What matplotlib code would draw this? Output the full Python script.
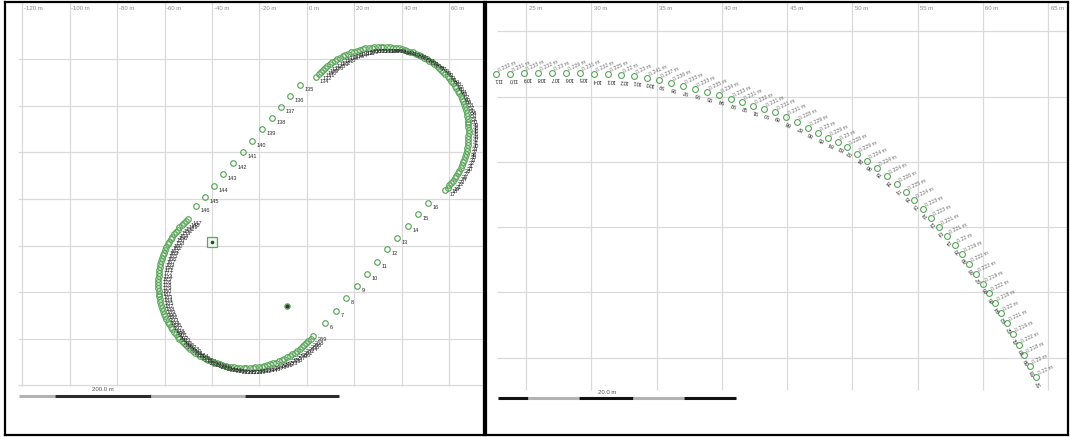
import numpy as np
import matplotlib
matplotlib.use("Agg")
import matplotlib.pyplot as plt

plt.rcParams['font.family'] = ['Liberation Sans', 'DejaVu Sans']

# ---------------- overview track (left panel), metres ----------------
straight_a_id = [6, 7, 8, 9, 10, 11, 12, 13, 14, 15, 16]
straight_a_x = [7.6, 12.2, 16.4, 21.1, 25.3, 29.5, 33.7, 37.9, 42.5, 46.7, 51.0]
straight_a_y = [-53.2, -48.1, -42.5, -37.3, -32.2, -27.0, -21.5, -16.7, -11.6, -6.4, -1.7]

arc_top_id = [17, 18, 19, 21, 22, 23, 24, 26, 27, 28, 30, 31, 32, 33,
              35, 36, 37, 39, 40, 41, 42, 44, 45, 46, 48, 49, 50, 51,
              53, 54, 55, 57, 58, 59, 60, 62, 63, 64, 66, 67, 68, 69,
              71, 72, 73, 75, 76, 77, 78, 80, 81, 82, 84, 85, 86, 87,
              89, 90, 91, 93, 94, 95, 96, 98, 99, 100, 102, 103, 104, 105,
              107, 108, 109, 111, 112, 113, 114, 116, 117, 118, 120, 121, 122, 123,
              125, 126, 127, 129, 130, 131, 132, 134]
arc_top_x = [58.3, 59.2, 60.0, 60.8, 61.5, 62.2, 62.9, 63.5, 64.1, 64.7, 65.2, 65.7, 66.1, 66.5,
             66.9, 67.2, 67.4, 67.7, 67.8, 68.0, 68.0, 68.1, 68.1, 68.0, 68.0, 67.8, 67.7, 67.4,
             67.2, 66.9, 66.5, 66.1, 65.7, 65.2, 64.7, 64.1, 63.5, 62.9, 62.2, 61.5, 60.8, 60.0,
             59.2, 58.3, 57.4, 56.5, 55.6, 54.6, 53.6, 52.5, 51.5, 50.4, 49.3, 48.2, 47.0, 45.9,
             44.7, 43.5, 42.3, 41.1, 39.8, 38.6, 37.3, 36.1, 34.8, 33.5, 32.2, 31.0, 29.7, 28.4,
             27.2, 25.9, 24.6, 23.4, 22.2, 20.9, 19.7, 18.5, 17.3, 16.2, 15.0, 13.9, 12.8, 11.7,
             10.7, 9.6, 8.6, 7.6, 6.7, 5.8, 4.9, 3.6]
arc_top_y = [3.9, 4.9, 5.8, 6.8, 7.9, 8.9, 10.0, 11.1, 12.2, 13.4, 14.5, 15.7, 16.9, 18.1,
             19.4, 20.6, 21.8, 23.1, 24.4, 25.6, 26.9, 28.2, 29.4, 30.7, 32.0, 33.2, 34.5, 35.8,
             37.0, 38.3, 39.5, 40.7, 41.9, 43.1, 44.2, 45.4, 46.5, 47.6, 48.7, 49.7, 50.8, 51.8,
             52.8, 53.7, 54.6, 55.5, 56.4, 57.2, 58.0, 58.7, 59.4, 60.1, 60.7, 61.3, 61.9, 62.4,
             62.9, 63.3, 63.7, 64.1, 64.4, 64.6, 64.9, 65.0, 65.2, 65.2, 65.3, 65.3, 65.2, 65.2,
             65.0, 64.9, 64.6, 64.4, 64.1, 63.7, 63.3, 62.9, 62.4, 61.9, 61.3, 60.7, 60.1, 59.4,
             58.7, 58.0, 57.2, 56.4, 55.5, 54.6, 53.7, 52.3]

straight_b_id = [135, 136, 137, 138, 139, 140, 141, 142, 143, 144, 145, 146]
straight_b_x = [-3.0, -7.2, -10.9, -14.7, -18.9, -23.2, -26.9, -31.2, -35.4, -39.2, -43.0, -46.7]
straight_b_y = [48.9, 44.2, 39.5, 34.8, 30.0, 24.9, 20.2, 15.5, 10.7, 5.6, 0.9, -3.0]

arc_bottom_id = [147, 148, 149, 151, 152, 153, 154, 156, 157, 158, 160, 161, 162, 163,
                 165, 166, 167, 169, 170, 171, 172, 174, 175, 176, 178, 179, 180, 181,
                 183, 184, 185, 187, 188, 189, 190, 192, 193, 194, 196, 197, 198, 199,
                 201, 202, 203, 205, 206, 207, 208, 210, 211, 212, 214, 215, 216, 217,
                 219, 220, 221, 223, 224, 225, 226, 228, 229, 230, 232, 233, 234, 235,
                 237, 238, 239, 241, 242, 243, 244, 246, 247, 248, 250, 251, 252, 253,
                 255, 256, 257, 259, 260, 261, 262, 264, 265, 266, 268, 269]
arc_bottom_x = [-50.1, -51.0, -51.9, -52.8, -53.7, -54.5, -55.3, -56.0, -56.7, -57.4, -58.0, -58.6,
                -59.2, -59.7, -60.2, -60.6, -61.0, -61.4, -61.7, -61.9, -62.2, -62.3, -62.5, -62.6,
                -62.6, -62.6, -62.6, -62.5, -62.3, -62.2, -61.9, -61.7, -61.4, -61.0, -60.6, -60.2,
                -59.7, -59.2, -58.6, -58.0, -57.4, -56.7, -56.0, -55.3, -54.5, -53.7, -52.8, -51.9,
                -51.0, -50.1, -49.1, -48.1, -47.0, -46.0, -44.9, -43.8, -42.7, -41.5, -40.4, -39.2,
                -38.0, -36.8, -35.6, -34.3, -33.1, -31.8, -30.6, -29.3, -28.0, -26.7, -25.5, -24.2,
                -22.9, -21.7, -20.4, -19.1, -17.9, -16.7, -15.4, -14.2, -13.0, -11.8, -10.7, -9.5,
                -8.4, -7.3, -6.2, -5.2, -4.1, -3.1, -2.2, -1.2, -0.3, 0.6, 1.5, 2.7]
arc_bottom_y = [-8.6, -9.4, -10.3, -11.2, -12.2, -13.1, -14.1, -15.2, -16.2, -17.3, -18.4, -19.5,
                -20.7, -21.8, -23.0, -24.2, -25.4, -26.7, -27.9, -29.1, -30.4, -31.7, -32.9, -34.2,
                -35.5, -36.7, -38.0, -39.3, -40.6, -41.8, -43.1, -44.3, -45.6, -46.8, -48.0, -49.2,
                -50.4, -51.5, -52.7, -53.8, -54.9, -56.0, -57.0, -58.1, -59.1, -60.1, -61.0, -61.9,
                -62.8, -63.7, -64.5, -65.3, -66.0, -66.7, -67.4, -68.0, -68.6, -69.2, -69.7, -70.2,
                -70.6, -71.0, -71.4, -71.7, -71.9, -72.2, -72.3, -72.5, -72.6, -72.6, -72.6, -72.6,
                -72.5, -72.3, -72.2, -71.9, -71.7, -71.4, -71.0, -70.6, -70.2, -69.7, -69.2, -68.6,
                -68.0, -67.4, -66.7, -66.0, -65.3, -64.5, -63.7, -62.8, -61.9, -61.0, -60.1, -58.6]

square_marker_x = [-40.0]
square_marker_y = [-18.5]
pin_marker_x = [-8.4]
pin_marker_y = [-45.9]

overview_xticks = [-120, -100, -80, -60, -40, -20, 0, 20, 40, 60]
overview_yticks = [60, 40, 20, 0, -20, -40, -60, -80]
overview_xlabels = ["-120 m", "-100 m", "-80 m", "-60 m", "-40 m", "-20 m", "0 m", "20 m", "40 m", "60 m"]
overview_scale_label = "200.0 m"

# ---------------- detail of the top curve (right panel), metres ----------------
detail_id = [111, 110, 109, 108, 107, 106, 105, 104, 103, 102, 101, 100, 99, 98, 97, 96, 95, 94,
             93, 92, 91, 90, 89, 88, 87, 86, 85, 84, 83, 82, 81, 80, 79, 78, 77, 76, 75, 74, 73,
             72, 71, 70, 69, 68, 67, 66, 65, 64, 63, 62, 61, 60, 59, 58, 57]
detail_x = [22.70, 23.77, 24.85, 25.92, 26.99, 28.07, 29.14, 30.21, 31.28, 32.28, 33.28, 34.27,
            35.19, 36.11, 37.03, 37.95, 38.87, 39.79, 40.71, 41.55, 42.39, 43.24, 44.08, 44.92,
            45.77, 46.61, 47.38, 48.14, 48.91, 49.60, 50.37, 51.13, 51.90, 52.66, 53.43, 54.12,
            54.73, 55.42, 56.04, 56.65, 57.26, 57.87, 58.41, 58.95, 59.48, 60.02, 60.48, 60.94,
            61.40, 61.86, 62.32, 62.78, 63.16, 63.62, 64.08]
detail_y = [26.74, 26.74, 26.82, 26.82, 26.82, 26.82, 26.82, 26.74, 26.74, 26.67, 26.59, 26.44,
            26.28, 26.05, 25.82, 25.59, 25.36, 25.13, 24.83, 24.60, 24.29, 24.06, 23.83, 23.45,
            23.07, 22.61, 22.22, 21.84, 21.53, 21.15, 20.61, 20.08, 19.54, 18.93, 18.31, 17.70,
            17.09, 16.40, 15.71, 15.02, 14.33, 13.64, 12.95, 12.18, 11.42, 10.65, 9.96, 9.20,
            8.43, 7.66, 6.82, 5.98, 5.21, 4.37, 3.52]
detail_dist = [0.232, 0.231, 0.233, 0.232, 0.23, 0.229, 0.231, 0.232, 0.225, 0.22, 0.23, 0.241,
               0.237, 0.236, 0.233, 0.233, 0.235, 0.234, 0.233, 0.231, 0.232, 0.231, 0.231, 0.231,
               0.228, 0.229, 0.23, 0.229, 0.23, 0.228, 0.229, 0.224, 0.224, 0.224, 0.226, 0.225,
               0.224, 0.223, 0.223, 0.221, 0.221, 0.22, 0.219, 0.222, 0.222, 0.219, 0.222, 0.218,
               0.22, 0.221, 0.219, 0.222, 0.218, 0.22, 0.22]

detail_xticks = [25, 30, 35, 40, 45, 50, 55, 60, 65]
detail_yticks = [30, 25, 20, 15, 10, 5]
detail_xlabels = ["25 m", "30 m", "35 m", "40 m", "45 m", "50 m", "55 m", "60 m", "65 m"]
detail_scale_label = "20.0 m"

# ---------------- styling ----------------
GREEN = '#5aa65a'
GRID = '#dadada'
TICKTXT = '#8a8a8a'
LABELTXT = '#2a2a2a'
DISTTXT = '#707070'
W, H = 1070, 437

fig = plt.figure(figsize=(W / 100, H / 100), dpi=100)
fig.patch.set_facecolor('white')

axL = fig.add_axes([5 / W, 2 / H, 479 / W, 433 / H])
axR = fig.add_axes([486 / W, 2 / H, 582 / W, 433 / H])

for ax in (axL, axR):
    ax.set_xticks([])
    ax.set_yticks([])
    for s in ax.spines.values():
        s.set_color('black')
        s.set_linewidth(1.6)
    ax.set_facecolor('white')

# ---- left panel ----
axL.set_xlim(-127.16, 74.53)
axL.set_ylim(-101.29, 84.55)
axL.vlines(overview_xticks, -80.3, 84.55, color=GRID, lw=0.9, zorder=0)
axL.hlines(overview_yticks, -121.7, 74.53, color=GRID, lw=0.9, zorder=0)
for v, lbl in zip(overview_xticks, overview_xlabels):
    axL.annotate(lbl, xy=(v, 0.984), xycoords=('data', 'axes fraction'), xytext=(1.2, 0),
                 textcoords='offset points', fontsize=4.3, color=TICKTXT, ha='left', va='center')

segments = [(straight_a_x, straight_a_y, straight_a_id),
            (arc_top_x, arc_top_y, arc_top_id),
            (straight_b_x, straight_b_y, straight_b_id),
            (arc_bottom_x, arc_bottom_y, arc_bottom_id)]
for xs, ys, ids in segments:
    axL.plot(xs, ys, 'o', ms=4.0, mfc='none', mec=GREEN, mew=0.85, zorder=3)
for xs, ys, ids in segments:
    for x, y, i in zip(xs, ys, ids):
        axL.annotate(str(i), (x, y), xytext=(3.2, -3.0), textcoords='offset points',
                     fontsize=4.1, color=LABELTXT, ha='left', va='center', zorder=4)

axL.plot(square_marker_x, square_marker_y, 's', ms=6.5, mfc='#eef6ee', mec=GREEN, mew=0.9, zorder=5)
axL.plot(square_marker_x, square_marker_y, 'o', ms=1.6, color='#2a4a2a', zorder=6)
axL.plot(pin_marker_x, pin_marker_y, 'o', ms=3.8, mfc='none', mec=GREEN, mew=0.9, zorder=5)
axL.plot(pin_marker_x, pin_marker_y, 'o', ms=2.0, color='#2a3a2a', zorder=6)

# scale bar left
sb_y = 0.090
for f0, f1, c in [(0.0292, 0.1044, '#b3b3b3'), (0.1044, 0.3048, '#2c2c2c'),
                  (0.3048, 0.501, '#b3b3b3'), (0.501, 0.6973, '#2c2c2c')]:
    axL.plot([f0, f1], [sb_y, sb_y], transform=axL.transAxes, color=c, lw=2.2,
             solid_capstyle='butt', zorder=5)
axL.text(0.204, 0.104, overview_scale_label, transform=axL.transAxes, fontsize=4.3,
         color='#555555', ha='center', va='center')

# ---- right panel ----
axR.set_xlim(21.935, 66.53)
axR.set_ylim(-0.92, 32.26)
axR.vlines(detail_xticks, 2.53, 32.26, color=GRID, lw=0.9, zorder=0)
axR.hlines(detail_yticks, 22.78, 66.53, color=GRID, lw=0.9, zorder=0)
for v, lbl in zip(detail_xticks, detail_xlabels):
    axR.annotate(lbl, xy=(v, 0.984), xycoords=('data', 'axes fraction'), xytext=(1.8, 0),
                 textcoords='offset points', fontsize=4.3, color=TICKTXT, ha='left', va='center')

dx_arr = np.array(detail_x)
dy_arr = np.array(detail_y)
gx = np.gradient(dx_arr)
gy = np.gradient(dy_arr)
heading = np.degrees(np.arctan2(-gy, -gx))

axR.plot(detail_x, detail_y, 'o', ms=4.2, mfc='none', mec=GREEN, mew=0.8, zorder=3)
for x, y, i, d, h in zip(detail_x, detail_y, detail_id, detail_dist, heading):
    axR.annotate(f"{d:g} m", (x, y), xytext=(2.6, 0.8), textcoords='offset points',
                 fontsize=3.8, color=DISTTXT, ha='left', va='bottom', rotation=25,
                 rotation_mode='anchor', zorder=4)
    axR.annotate(str(i), (x, y), xytext=(2.0, -4.2), textcoords='offset points',
                 fontsize=4.0, color=LABELTXT, ha='center', va='center', rotation=h,
                 zorder=4)

# scale bar right
sb_y2 = 0.085
for f0, f1, c in [(0.0206, 0.0722, '#111111'), (0.0722, 0.1598, '#b3b3b3'),
                  (0.1598, 0.2526, '#111111'), (0.2526, 0.3402, '#b3b3b3'),
                  (0.3402, 0.4296, '#111111')]:
    axR.plot([f0, f1], [sb_y2, sb_y2], transform=axR.transAxes, color=c, lw=2.2,
             solid_capstyle='butt', zorder=5)
axR.text(0.208, 0.098, detail_scale_label, transform=axR.transAxes, fontsize=4.3,
         color='#555555', ha='center', va='center')

fig.savefig('out.png', dpi=100, facecolor='white')
